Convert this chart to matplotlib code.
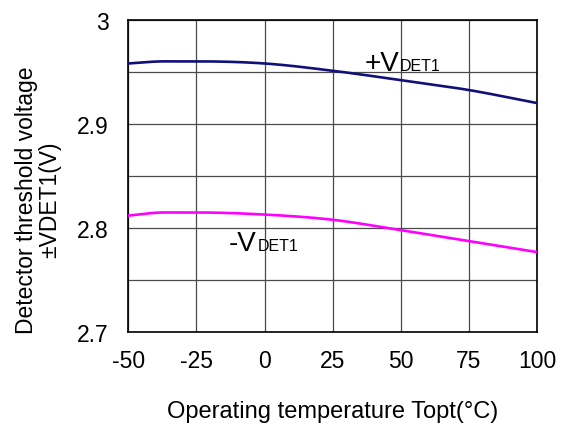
import numpy as np
import matplotlib
matplotlib.use("Agg")
import matplotlib.pyplot as plt
from matplotlib.ticker import MultipleLocator

plt.rcParams['font.family'] = ['Liberation Sans', 'DejaVu Sans']

# temperature points (°C)
temp = [-50, -37, -25, 0, 25, 50, 75, 100]
vdet_plus = [2.958, 2.960, 2.960, 2.958, 2.951, 2.942, 2.9325, 2.920]
vdet_minus = [2.812, 2.815, 2.815, 2.813, 2.808, 2.798, 2.7875, 2.777]

xticks = [-50, -25, 0, 25, 50, 75, 100]
yticks = [2.7, 2.8, 2.9, 3.0]
ytick_labels = ['2.7', '2.8', '2.9', '3']


def smooth(x, y, n=200):
    # cubic hermite through the read points
    x = np.asarray(x, float)
    y = np.asarray(y, float)
    xs = np.linspace(x[0], x[-1], n)
    h = np.diff(x)
    d = np.diff(y) / h
    m = np.zeros_like(y)
    m[0], m[-1] = d[0], d[-1]
    for i in range(1, len(x) - 1):
        m[i] = 0 if d[i - 1] * d[i] <= 0 else (d[i - 1] + d[i]) / 2
    ys = np.empty_like(xs)
    for j, xv in enumerate(xs):
        i = min(np.searchsorted(x, xv, side='right') - 1, len(x) - 2)
        t = (xv - x[i]) / h[i]
        h00 = 2 * t**3 - 3 * t**2 + 1
        h10 = t**3 - 2 * t**2 + t
        h01 = -2 * t**3 + 3 * t**2
        h11 = t**3 - t**2
        ys[j] = h00 * y[i] + h10 * h[i] * m[i] + h01 * y[i + 1] + h11 * h[i] * m[i + 1]
    return xs, ys


fig = plt.figure(figsize=(5.61, 4.27), dpi=100)
ax = fig.add_axes([128.3 / 561, 1 - 333.3 / 427, 408.7 / 561, 312.6 / 427])

xs, ys = smooth(temp, vdet_plus)
ax.plot(xs, ys, color='#10107a', lw=1.9, zorder=3)
xs, ys = smooth(temp, vdet_minus)
ax.plot(xs, ys, color='#ff00ff', lw=1.9, zorder=3)

ax.set_xlim(-50, 100)
ax.set_ylim(2.7, 3.0)
ax.set_xticks(xticks)
ax.set_xticklabels([str(v) for v in xticks])
ax.set_yticks(yticks)
ax.set_yticklabels(ytick_labels)
ax.yaxis.set_minor_locator(MultipleLocator(0.05))
ax.grid(True, which='both', color='#4a4a4a', lw=0.9)
ax.tick_params(which='both', length=0, labelsize=16.5)
ax.tick_params(axis='x', pad=12)
ax.tick_params(axis='y', pad=14)
for s in ax.spines.values():
    s.set_color('black')
    s.set_linewidth(1.2)

ax.text(36.8, 2.952, '+V', fontsize=20, va='baseline')
ax.text(49.7, 2.952, 'DET1', fontsize=11.5, va='baseline')
ax.text(-13.0, 2.779, '-V', fontsize=20, va='baseline')
ax.text(-2.6, 2.779, 'DET1', fontsize=11.5, va='baseline')

ax.set_xlabel('Operating temperature Topt(°C)', fontsize=17, labelpad=20)
fig.text(38 / 561, 1 - 200 / 427, 'Detector threshold voltage\n±VDET1(V)',
         rotation=90, ha='center', va='center', fontsize=16.5, linespacing=1.05)

fig.savefig('out.png', dpi=100)
